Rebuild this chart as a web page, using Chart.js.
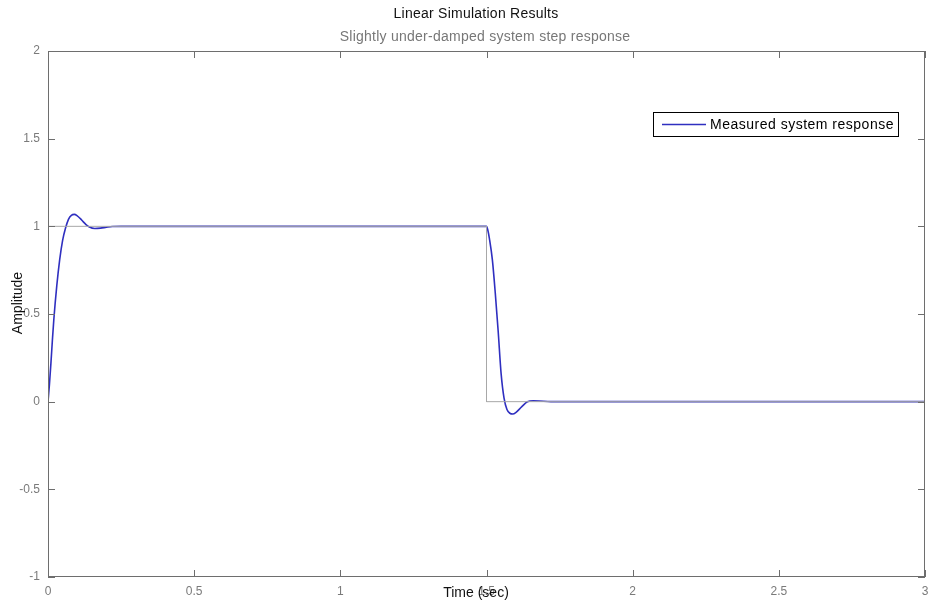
<!DOCTYPE html>
<html>
<head>
<meta charset="utf-8">
<script src="https://cdn.jsdelivr.net/npm/chart.js@4/dist/chart.umd.min.js"></script>
<style>
  html, body { margin: 0; padding: 0; background: #ffffff; }
  #wrap { width: 932px; height: 606px; position: relative; }
</style>
</head>
<body>
<div id="wrap"><canvas id="c" width="932" height="606"></canvas></div>
<script>
// ---- Data ----
const titleText = 'Linear Simulation Results';
const subtitleText = 'Slightly under-damped system step response';
const xAxisTitle = 'Time (sec)';
const yAxisTitle = 'Amplitude';
const legendLabel = 'Measured system response';

const xTickValues = [0, 0.5, 1, 1.5, 2, 2.5, 3];
const yTickValues = [-1, -0.5, 0, 0.5, 1, 1.5, 2];

// input (reference step signal, grey)
const inputTimes  = [0, 0, 1.5, 1.5, 3];
const inputValues = [0, 1, 1,   0,   0];

// measured response (blue)
const responseTimes = [
  0, 0.005, 0.01, 0.015, 0.02, 0.03, 0.04, 0.05, 0.06, 0.07, 0.08, 0.09,
  0.10, 0.11, 0.12, 0.13, 0.14, 0.16, 0.18, 0.20, 0.22, 0.25,
  1.5, 1.505, 1.51, 1.52, 1.53, 1.54, 1.55, 1.56, 1.57, 1.58, 1.59, 1.60,
  1.62, 1.64, 1.66, 1.68, 1.72, 3.0
];
const responseValues = [
  0, 0.10, 0.22, 0.35, 0.47, 0.66, 0.81, 0.92, 0.99, 1.04, 1.063, 1.068,
  1.06, 1.045, 1.027, 1.01, 0.998, 0.988, 0.99, 0.995, 0.999, 1.0,
  1.0, 0.975, 0.93, 0.81, 0.62, 0.40, 0.16, 0.02, -0.045, -0.066, -0.07, -0.062,
  -0.03, 0.0, 0.005, 0.004, 0.0, 0.0
];

const toPoints = (xs, ys) => xs.map((x, i) => ({ x: x, y: ys[i] }));

const FONT = '"Liberation Sans", Arial, Helvetica, sans-serif';
const TICK_COLOR = '#7a7a7a';
const FRAME_COLOR = '#6e6e6e';
const BLUE = '#2f2fc0';

function spacedText(ctx, text, x, y, spacing) {
  if ('letterSpacing' in ctx) {
    ctx.letterSpacing = spacing + 'px';
    ctx.fillText(text, x, y);
    ctx.letterSpacing = '0px';
  } else {
    ctx.fillText(text, x, y);
  }
}

const decorPlugin = {
  id: 'decor',
  afterDatasetsDraw(chart) {
    const ctx = chart.ctx;
    const a = chart.chartArea;
    const xs = chart.scales.x, ys = chart.scales.y;
    ctx.save();
    // frame
    ctx.strokeStyle = FRAME_COLOR;
    ctx.lineWidth = 1;
    ctx.strokeRect(Math.round(a.left) + 0.5, Math.round(a.top) + 0.5,
                   Math.round(a.right - a.left) - 1, Math.round(a.bottom - a.top) - 1);
    // inward ticks
    const tl = 7;
    ctx.beginPath();
    xTickValues.forEach(v => {
      const px = Math.round(xs.getPixelForValue(v)) + 0.5;
      ctx.moveTo(px, a.bottom); ctx.lineTo(px, a.bottom - tl);
      ctx.moveTo(px, a.top); ctx.lineTo(px, a.top + tl);
    });
    yTickValues.forEach(v => {
      const py = Math.round(ys.getPixelForValue(v)) + 0.5;
      ctx.moveTo(a.left, py); ctx.lineTo(a.left + tl, py);
      ctx.moveTo(a.right, py); ctx.lineTo(a.right - tl, py);
    });
    ctx.stroke();

    // legend box
    const ds = chart.data.datasets[1];
    const lx = 653, ly = 112, lw = 245, lh = 24;
    ctx.fillStyle = '#ffffff';
    ctx.fillRect(lx, ly, lw, lh);
    ctx.strokeStyle = '#000000';
    ctx.lineWidth = 1;
    ctx.strokeRect(lx + 0.5, ly + 0.5, lw, lh);
    ctx.strokeStyle = ds.borderColor;
    ctx.lineWidth = 1.3;
    ctx.beginPath();
    ctx.moveTo(lx + 9, ly + lh / 2 + 0.5);
    ctx.lineTo(lx + 53, ly + lh / 2 + 0.5);
    ctx.stroke();
    ctx.fillStyle = '#000000';
    ctx.font = '14px ' + FONT;
    ctx.textAlign = 'left';
    ctx.textBaseline = 'middle';
    spacedText(ctx, ds.label, lx + 57, ly + lh / 2 + 1, 0.5);
    ctx.restore();
  },
  afterDraw(chart) {
    const ctx = chart.ctx;
    ctx.save();
    ctx.textAlign = 'center';
    ctx.textBaseline = 'middle';
    ctx.font = '14px ' + FONT;
    ctx.fillStyle = '#111111';
    spacedText(ctx, titleText, 476, 14, 0.25);
    ctx.fillStyle = '#777777';
    spacedText(ctx, subtitleText, 485, 37, 0.25);
    // axis titles
    ctx.fillStyle = '#111111';
    ctx.fillText(xAxisTitle, 476, 593);
    ctx.translate(18, 303);
    ctx.rotate(-Math.PI / 2);
    ctx.fillText(yAxisTitle, 0, 0);
    ctx.restore();
  }
};

new Chart(document.getElementById('c'), {
  type: 'scatter',
  data: {
    datasets: [
      {
        label: 'Input',
        data: toPoints(inputTimes, inputValues),
        showLine: true,
        borderColor: '#a8a8a8',
        borderWidth: 1,
        pointRadius: 0,
        tension: 0
      },
      {
        label: legendLabel,
        data: toPoints(responseTimes, responseValues),
        showLine: true,
        borderColor: BLUE,
        borderWidth: 1.6,
        pointRadius: 0,
        cubicInterpolationMode: 'monotone'
      }
    ]
  },
  options: {
    responsive: false,
    animation: false,
    devicePixelRatio: 1,
    layout: { padding: { top: 51, right: 7, left: 0, bottom: 0 } },
    plugins: {
      legend: { display: false },
      title: { display: false },
      tooltip: { enabled: false }
    },
    scales: {
      x: {
        type: 'linear',
        min: 0, max: 3,
        afterBuildTicks: s => { s.ticks = xTickValues.map(v => ({ value: v })); },
        afterFit: s => { s.height = 29; s.paddingLeft = 0; s.paddingRight = 0; },
        grid: { display: false, drawTicks: false },
        border: { display: false },
        ticks: {
          padding: 7,
          color: TICK_COLOR,
          font: { family: FONT, size: 12 },
          maxRotation: 0,
          autoSkip: false,
          callback: v => String(v)
        }
      },
      y: {
        type: 'linear',
        min: -1, max: 2,
        afterBuildTicks: s => { s.ticks = yTickValues.map(v => ({ value: v })); },
        afterFit: s => { s.width = 48; s.paddingTop = 0; s.paddingBottom = 0; },
        grid: { display: false, drawTicks: false },
        border: { display: false },
        ticks: {
          padding: 8,
          color: TICK_COLOR,
          font: { family: FONT, size: 12 },
          autoSkip: false,
          callback: v => String(v)
        }
      }
    }
  },
  plugins: [decorPlugin]
});
</script>
</body>
</html>
